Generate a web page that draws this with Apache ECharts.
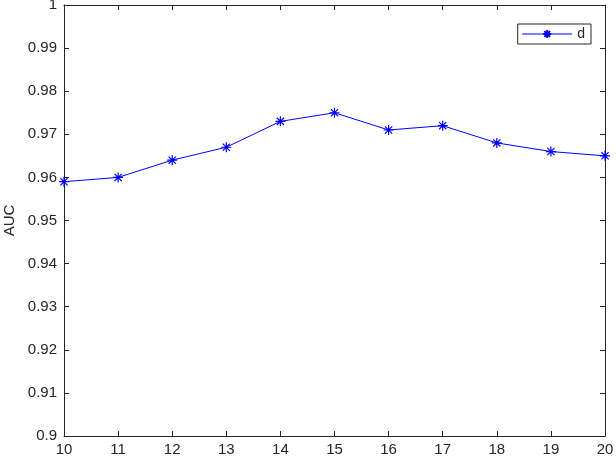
<!DOCTYPE html>
<html><head><meta charset="utf-8">
<script src="https://cdn.jsdelivr.net/npm/echarts@6/dist/echarts.min.js"></script>
<style>html,body{margin:0;padding:0;background:#fff}#c{width:616px;height:460px}</style>
</head><body><div id="c"></div>
<script>
const categories = [10, 11, 12, 13, 14, 15, 16, 17, 18, 19, 20];
const dValues = [0.959, 0.960, 0.964, 0.967, 0.973, 0.975, 0.971, 0.972, 0.968, 0.966, 0.965];
const yTicks = [0.9, 0.91, 0.92, 0.93, 0.94, 0.95, 0.96, 0.97, 0.98, 0.99, 1];

const axisColor = '#262626';
const font = 'Liberation Sans, Arial, sans-serif';
const star = 'path://M0,-5L0,5M-5,0L5,0M-3.6,-3.6L3.6,3.6M-3.6,3.6L3.6,-3.6';
const chart = echarts.init(document.getElementById('c'));
const yFmt = v => { const r = Math.round(v*100)/100; return yTicks.some(t => Math.abs(t-r)<1e-9) ? String(r) : ''; };
chart.setOption({
  animation: false,
  grid: {left: 64, right: 11, top: 5, bottom: 24, containLabel: false, outerBoundsMode: 'none'},
  legend: {
    right: 25, top: 24, data: ['d'],
    itemWidth: 50, itemHeight: 10, itemGap: 4,
    padding: [3, 6, 3, 4],
    borderColor: axisColor, borderWidth: 1, backgroundColor: '#fff',
    lineStyle: {width: 1},
    textStyle: {color: axisColor, fontSize: 14, fontFamily: font}
  },
  xAxis: [{
    type: 'value', min: 10, max: 20, interval: 1, position: 'bottom',
    axisLine: {lineStyle: {color: axisColor}},
    axisTick: {inside: true, length: 5, lineStyle: {color: axisColor}},
    axisLabel: {color: axisColor, fontSize: 15, fontFamily: font, margin: 6},
    splitLine: {show: false}
  }, {
    type: 'value', min: 10, max: 20, interval: 1, position: 'top',
    axisLine: {show: true, lineStyle: {color: axisColor}},
    axisTick: {inside: true, length: 5, lineStyle: {color: axisColor}},
    axisLabel: {show: false}, splitLine: {show: false}
  }],
  yAxis: [{
    type: 'value', min: 0.9, max: 1, interval: 0.01, position: 'left',
    name: 'AUC', nameLocation: 'middle', nameGap: 47,
    nameTextStyle: {color: axisColor, fontSize: 15, fontFamily: font},
    axisLine: {show: true, lineStyle: {color: axisColor}},
    axisTick: {inside: true, length: 5, lineStyle: {color: axisColor}},
    axisLabel: {color: axisColor, fontSize: 15, fontFamily: font, margin: 7, formatter: yFmt},
    splitLine: {show: false}
  }, {
    type: 'value', min: 0.9, max: 1, interval: 0.01, position: 'right',
    axisLine: {show: true, lineStyle: {color: axisColor}},
    axisTick: {inside: true, length: 5, lineStyle: {color: axisColor}},
    axisLabel: {show: false}, splitLine: {show: false}
  }],
  series: [{
    name: 'd', type: 'line',
    data: categories.map((c, i) => [c, dValues[i]]),
    symbol: star, symbolSize: 10,
    lineStyle: {color: '#0000ff', width: 1},
    itemStyle: {color: '#0000ff', borderColor: '#0000ff', borderWidth: 1.2}
  }]
});
</script></body></html>
